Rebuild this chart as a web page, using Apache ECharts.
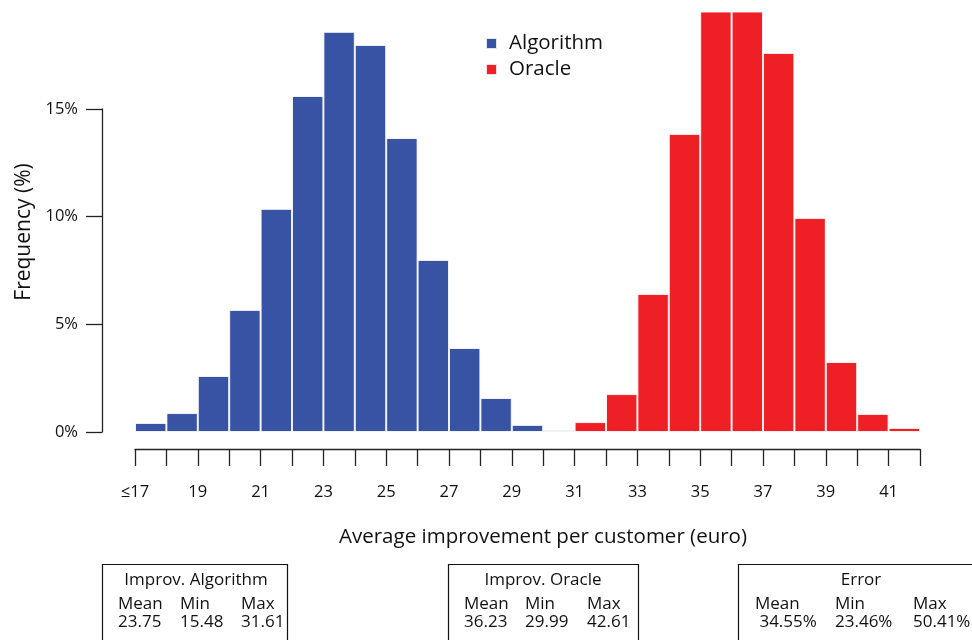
<!DOCTYPE html>
<html>
<head>
<meta charset="utf-8">
<script src="https://cdn.jsdelivr.net/npm/echarts@6/dist/echarts.min.js"></script>
<style>html,body{margin:0;padding:0;background:#fff}#c{width:972px;height:640px}</style>
</head>
<body>
<div id="c"></div>
<script>
// bins of 1 euro from 17 to 42
const binStarts = [17,18,19,20,21,22,23,24,25,26,27,28,29,30,31,32,33,34,35,36,37,38,39,40,41];
const algorithm = [0.42,0.88,2.6,5.67,10.36,15.6,18.58,17.97,13.65,7.99,3.9,1.58,0.33,0.09,'-','-','-','-','-','-','-','-','-','-','-'];
const oracle =    ['-','-','-','-','-','-','-','-','-','-','-','-','-','-',0.46,1.76,6.41,13.84,20.3,20.1,17.6,9.94,3.25,0.84,0.19];
const xTickLabels = {17:'≤17',19:'19',21:'21',23:'23',25:'25',27:'27',29:'29',31:'31',33:'33',35:'35',37:'37',39:'39',41:'41'};
const yTicks = [0,5,10,15];
const statsAlgorithm = {title:'Improv. Algorithm', mean:'23.75', min:'15.48', max:'31.61'};
const statsOracle = {title:'Improv. Oracle', mean:'36.23', min:'29.99', max:'42.61'};
const statsError = {title:'Error', mean:' 34.55%', min:'23.46%', max:'50.41%'};

const FONT = 'Open Sans';
const chart = echarts.init(document.getElementById('c'));

function box(s, x, w, cols, titleX) {
  const f = '17px "'+FONT+'"';
  const items = [
    {type:'rect', shape:{x:x, y:564.5, width:w, height:100}, style:{fill:'none', stroke:'#111', lineWidth:1.2}},
    {type:'text', x:titleX, y:580, style:{text:s.title, font:f, fill:'#111', align:'center', verticalAlign:'middle'}}
  ];
  const heads = ['Mean','Min','Max'];
  const vals = [s.mean, s.min, s.max];
  for (let i=0;i<3;i++){
    items.push({type:'text', x:cols[i], y:604, style:{text:heads[i], font:f, fill:'#111', align:'left', verticalAlign:'middle'}});
    items.push({type:'text', x:cols[i], y:622, style:{text:vals[i], font:f, fill:'#111', align:'left', verticalAlign:'middle', whiteSpace:'pre'}});
  }
  return items;
}

const option = {
  animation:false,
  textStyle:{fontFamily:FONT},
  grid:[
    {left:135, right:52, top:12, bottom:208},
    {left:135, right:52, top:109, bottom:208}
  ],
  xAxis:[
    {type:'category', gridIndex:0, data:binStarts, show:false, boundaryGap:true},
    {type:'value', gridIndex:0, min:17, max:42, interval:1, position:'bottom', offset:17,
      axisLine:{show:true, lineStyle:{color:'#222', width:1.3}},
      axisTick:{show:true, inside:false, length:17, lineStyle:{color:'#222', width:1.3}},
      axisLabel:{show:true, margin:35, fontSize:16.5, color:'#111', fontFamily:FONT,
        formatter:v => xTickLabels[v] || ''},
      splitLine:{show:false}},
    {type:'value', gridIndex:1, show:false, min:17, max:42}
  ],
  yAxis:[
    {type:'value', gridIndex:0, min:0, max:19.5, show:false},
    {type:'value', gridIndex:1, min:0, max:15, interval:5, offset:33,
      axisLine:{show:true, lineStyle:{color:'#222', width:1.3}},
      axisTick:{show:true, inside:false, length:16, lineStyle:{color:'#222', width:1.3}},
      axisLabel:{margin:24, fontSize:16.5, color:'#111', fontFamily:FONT, formatter:v => yTicks.includes(v) ? v+'%' : ''},
      splitLine:{show:false}}
  ],
  legend:{
    orient:'vertical', left:480, top:28, itemWidth:11, itemHeight:11, itemGap:5, icon:'rect',
    textStyle:{fontSize:20.5, color:'#111', fontFamily:FONT, padding:[0,0,0,7]},
    data:['Algorithm','Oracle']
  },
  series:[
    {name:'Algorithm', type:'bar', xAxisIndex:0, yAxisIndex:0, data:algorithm, barCategoryGap:'0%', barGap:'-100%',
      itemStyle:{color:'#3953A4', borderColor:'rgba(255,255,255,0.85)', borderWidth:1}, clip:true},
    {name:'Oracle', type:'bar', xAxisIndex:0, yAxisIndex:0, data:oracle, barCategoryGap:'0%', barGap:'-100%',
      itemStyle:{color:'#EE1F25', borderColor:'rgba(255,255,255,0.85)', borderWidth:1}, clip:true}
  ],
  graphic:[
    {type:'text', x:24, y:232, rotation:Math.PI/2, style:{text:'Frequency (%)', font:'21px "'+FONT+'"', fill:'#111', align:'center', verticalAlign:'middle'}},
    {type:'text', x:543, y:537, style:{text:'Average improvement per customer (euro)', font:'20.5px "'+FONT+'"', fill:'#111', align:'center', verticalAlign:'middle'}},
    ...box(statsAlgorithm, 102.5, 185, [118,180,241], 196),
    ...box(statsOracle, 448.5, 190, [464,525,587], 543),
    ...box(statsError, 738.5, 260, [755,835,913], 861)
  ]
};
chart.setOption(option);
</script>
</body>
</html>
